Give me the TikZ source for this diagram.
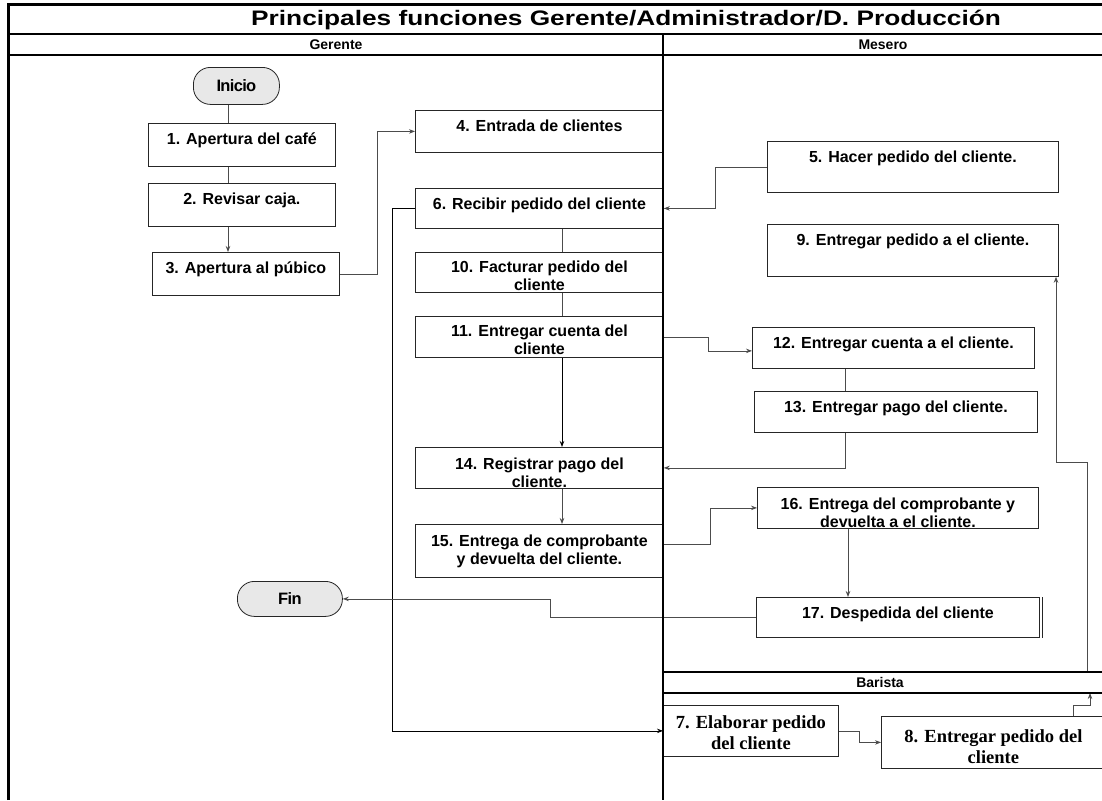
\documentclass[tikz,border=0pt]{standalone}
\usepackage{fontspec}
\setmainfont{Liberation Sans}
\newfontfamily\serifbold{Liberation Serif}
\newfontfamily\tightsans[LetterSpace=-4]{Liberation Sans}
\newfontfamily\widesans[FakeStretch=1.25]{Liberation Sans}
\usetikzlibrary{arrows.meta,calc}

\begin{document}
\begin{tikzpicture}[x=1pt,y=-1pt,
  lane/.style={line width=2pt,black},
  box/.style={draw=black!85,line width=0.8pt,rectangle,inner sep=0pt,
    minimum height=0pt,anchor=north west,
    font=\bfseries\fontsize{16}{18}\selectfont},
  tbox/.style={box,text height=21pt,text depth=#1},
  mbox/.style 2 args={box,align=center,text height=#1,text depth=#2,
    font=\bfseries\fontsize{16}{18}\selectfont},
  sbox/.style 2 args={box,align=center,text height=#1,text depth=#2,
    font=\serifbold\bfseries\fontsize{18.5}{21}\selectfont},
  term/.style={draw=black!85,line width=0.8pt,fill=gray!18,rectangle,
    rounded corners=17pt,inner sep=0pt,anchor=north west,
    font=\tightsans\bfseries\fontsize{16.5}{18}\selectfont},
  hdr/.style={font=\bfseries\fontsize{14}{16}\selectfont,inner sep=0pt},
  conn/.style={draw=black!70,line width=0.8pt},
  arr/.style={conn,-{Stealth[length=6pt,width=4.5pt]}}
]
\useasboundingbox (0,0) rectangle (1102,800);
\fill[white] (0,0) rectangle (1102,800);

% routing columns and rows
\coordinate (xa) at (228,0);
\coordinate (xb) at (377,0);
\coordinate (xc) at (392,0);
\coordinate (xd) at (715,0);
\coordinate (xe) at (562,0);
\coordinate (xf) at (708,0);
\coordinate (xg) at (845,0);
\coordinate (xh) at (710,0);
\coordinate (xi) at (848,0);
\coordinate (xj) at (550,0);
\coordinate (xk) at (859,0);
\coordinate (xl) at (1073,0);
\coordinate (xm) at (1090,0);
\coordinate (xn) at (1087,0);
\coordinate (xo) at (1056,0);
\coordinate (yq) at (0,462);
\coordinate (hbtop) at (663,672);
\coordinate (hbbot) at (663,693);

% headers
\node[font=\widesans\bfseries\fontsize{21}{22}\selectfont,inner sep=0pt,anchor=west] (title) at (251,19.5)
  {Principales funciones Gerente/Administrador/D. Producción};
\node[hdr] (lg) at (336,44.5) {Gerente};
\node[hdr] (lm) at (883,44.5) {Mesero};
\node[hdr] (lb) at (880,682.5) {Barista};

% terminals
\node[term,minimum width=86pt,minimum height=37pt] (ini) at (193,67) {Inicio};
\node[term,minimum width=105pt,minimum height=35pt] (fin) at (237,581) {Fin};

% Gerente lane
\node[tbox=22pt,minimum width=187pt] (b1) at (148,123) {1. Apertura del café};
\node[tbox=22pt,minimum width=187pt] (b2) at (148,183) {2. Revisar caja.};
\node[tbox=22pt,minimum width=187pt] (b3) at (152,252) {3. Apertura al púbico};
\node[tbox=21pt,minimum width=248pt] (b4) at (415,110) {4. Entrada de clientes};
\node[tbox=19pt,minimum width=248pt] (b6) at (415,188) {6. Recibir pedido del cliente};
\node[mbox={38.5pt}{1.5pt},minimum width=248pt] (b10) at (415,252) {10. Facturar pedido del\\cliente};
\node[mbox={37.7pt}{3.3pt},minimum width=248pt] (b11) at (415,316) {11. Entregar cuenta del\\cliente};
\node[mbox={40.5pt}{0.5pt},minimum width=248pt] (b14) at (415,447) {14. Registrar pago del\\cliente.};
\node[mbox={40pt}{13pt},minimum width=248pt] (b15) at (415,524) {15. Entrega de comprobante\\y devuelta del cliente.};

% Mesero lane
\node[tbox=30pt,minimum width=291pt] (b5) at (767,141) {5. Hacer pedido del cliente.};
\node[tbox=31pt,minimum width=291pt] (b9) at (767,224) {9. Entregar pedido a el cliente.};
\node[tbox=20pt,minimum width=282pt] (b12) at (752,327) {12. Entregar cuenta a el cliente.};
\node[tbox=20pt,minimum width=283pt] (b13) at (754,391) {13. Entregar pago del cliente.};
\node[mbox={40.5pt}{0.5pt},minimum width=281pt] (b16) at (757,487) {16. Entrega del comprobante y\\devuelta a el cliente.};
\node[tbox=19pt,minimum width=283pt] (b17) at (756,597) {17. Despedida del cliente};
\draw[draw=black!85,line width=0.8pt] ($(b17.north east)+(2.5,0)$) -- ($(b17.south east)+(2.5,0)$);

% Barista lane
\node[sbox={44pt}{7pt},minimum width=175pt] (b7) at (663,705) {7. Elaborar pedido\\del cliente};
\node[sbox={47pt}{5pt},minimum width=224pt] (b8) at (881,716) {8. Entregar pedido del\\cliente};

% connectors
\coordinate (p12) at ($(b12.west)+(0,3)$);
\coordinate (p15) at ($(b15.east)+(0,-7)$);
\draw[conn] (ini.south -| xa) -- (b1.north -| xa);
\draw[conn] (b1.south -| xa) -- (b2.north -| xa);
\draw[arr] (b2.south -| xa) -- (b3.north -| xa);
\draw[arr] (b3.east) -| (xb |- b4.west) -- (b4.west);
\draw[arr] (b5.west) -| (xd |- b6.east) -- (b6.east);
\draw[arr,draw=black] (b6.west) -| (xc |- b7.west) -- (b7.west);
\draw[conn] (b6.south -| xe) -- (b10.north -| xe);
\draw[conn] (b10.south -| xe) -- (b11.north -| xe);
\draw[arr,draw=black] (b11.south -| xe) -- (b14.north -| xe);
\draw[arr] (b11.east) -| (xf |- p12) -- (p12);
\draw[conn] (b12.south -| xg) -- (b13.north -| xg);
\draw[arr] (b13.south -| xg) |- (b14.east);
\draw[arr] (b14.south -| xe) -- (b15.north -| xe);
\draw[arr] (p15) -| (xh |- b16.west) -- (b16.west);
\draw[arr] (b16.south -| xi) -- (b17.north -| xi);
\draw[arr] (b17.west) -| (xj |- fin.east) -- (fin.east);
\draw[arr] (b7.east) -| (xk |- b8.west) -- (b8.west);
\draw[arr] (b8.north -| xl) -- ($(b8.north -| xl)+(0,-11)$) -| (xm |- hbbot);
\draw[arr] (xn |- hbtop) -- (xn |- yq) -| (b9.south -| xo);

% swimlane frame
\draw[line width=3pt] (8,800) -- (8,5) -- (1102,5);
\draw[lane] (8,34) -- (1102,34);
\draw[lane] (8,55) -- (1102,55);
\draw[lane] (663,34) -- (663,800);
\draw[lane] (hbtop) -- (1102,672);
\draw[lane] (hbbot) -- (1102,693);
\end{tikzpicture}
\end{document}
